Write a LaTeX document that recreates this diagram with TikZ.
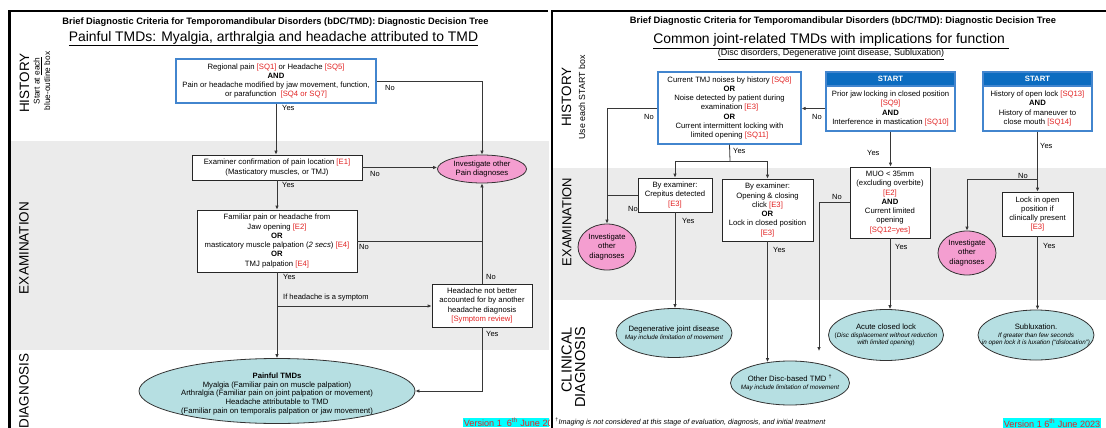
\documentclass[tikz,border=0pt]{standalone}
\usepackage{fontspec}
\setmainfont{Liberation Sans}
\usetikzlibrary{arrows.meta,calc,shapes.geometric}

\definecolor{refred}{RGB}{226,36,36}
\definecolor{boxblue}{RGB}{66,133,206}
\definecolor{startblue}{RGB}{12,108,192}
\definecolor{pinkfill}{RGB}{244,158,208}
\definecolor{tealfill}{RGB}{182,223,226}
\definecolor{bandgray}{RGB}{235,235,235}
\definecolor{linegray}{RGB}{55,55,55}
\definecolor{vercyan}{RGB}{0,255,255}

\newcommand{\rf}[1]{\textcolor{refred}{#1}}
\newcommand{\fs}[2]{\fontsize{#1}{#2}\selectfont}
% small italic remark line inside a diagnosis ellipse
\newcommand{\note}[1]{{\itshape\fs{6.3}{8}#1}}

\tikzset{
  box/.style={draw=black!85, fill=white, line width=0.8pt, inner sep=0pt,
              align=center, font=\fs{7.7}{9.3}},
  bbox/.style={box, draw=boxblue, line width=1.2pt},
  starthead/.style={draw=boxblue, fill=startblue, line width=1.2pt, inner sep=0pt,
              text=white, font=\bfseries\fs{7.7}{9.3}},
  pinkell/.style={ellipse, draw=black!80, fill=pinkfill, line width=0.8pt, inner sep=0pt},
  tealell/.style={ellipse, draw=black!80, fill=tealfill, line width=0.8pt, inner sep=0pt},
  txt/.style={inner sep=0pt, align=center, font=\fs{7.7}{9.3}},
  conn/.style={draw=linegray, line width=0.8pt},
  arr/.style={conn, -{Latex[length=4pt,width=3.6pt]}},
  lbl/.style={anchor=west, inner sep=0pt, font=\fs{7.5}{9}},
  side/.style={rotate=90, inner sep=0pt, font=\fs{13.5}{15}},
  version/.style={fill=vercyan, text=refred, inner sep=0.7pt, anchor=west, font=\fs{9.1}{10}},
}

\begin{document}
\begin{tikzpicture}[x=1pt,y=-1pt]
\useasboundingbox (0,0) rectangle (1106,428);
\fill[white] (0,0) rectangle (1106,428);

% ---------- band backgrounds ----------
\fill[bandgray] (10,141) rectangle (549,350);
\fill[bandgray] (553,168) rectangle (1106,300);

% ---------- panel frames ----------
\draw[line width=1.5pt] (9,11) -- (548,11);
\draw[line width=2.2pt] (9.5,10.3) -- (9.5,430);
\draw[line width=1.5pt] (551,11) -- (1106,11);
\draw[line width=2.2pt] (552,10.3) -- (552,430);

% =====================================================
% Left panel: painful TMDs
% =====================================================
\node[font=\bfseries\fs{9.3}{11}] (ttlA) at (275.5,22)
  {Brief Diagnostic Criteria for Temporomandibular Disorders (bDC/TMD): Diagnostic Decision Tree};
\node[font=\fs{13.9}{16}] (subA) at (273.5,38.5)
  {\underline{Painful TMDs: Myalgia, arthralgia and headache attributed to TMD}};

\node[side] (histA) at (24.5,83) {HISTORY};
\node[side, font=\fs{8.3}{10.5}, align=center] (histAn) at (42,81)
  {Start at \underline{each}\\blue-outline box};
\node[side] (examA) at (24,248) {EXAMINATION};
\node[side] (diagA) at (24,391) {DIAGNOSIS};

\node[bbox, minimum width=200, minimum height=44] (a1) at (276,81)
  {Regional pain \rf{[SQ1]} or Headache \rf{[SQ5]}\\
   \textbf{AND}\\
   Pain or headache modified by jaw movement, function,\\
   or parafunction \ \rf{[SQ4 or SQ7]}};
\node[box, minimum width=170, minimum height=25] (a2) at (277,167.5)
  {Examiner confirmation of pain location \rf{[E1]}\\
   (Masticatory muscles, or TMJ)};
\node[pinkell, minimum width=89, minimum height=28] (a3) at (482,169) {};
\node[txt] (a3t) at (a3) {Investigate other\\Pain diagnoses};
\node[box, minimum width=160, minimum height=62] (a4) at (277,241)
  {Familiar pain or headache from\\
   Jaw opening \rf{[E2]}\\
   \textbf{OR}\\
   masticatory muscle palpation (\textit{2 secs}) \rf{[E4]}\\
   \textbf{OR}\\
   TMJ palpation \rf{[E4]}};
\node[box, minimum width=100, minimum height=43] (a5) at (482,305.5)
  {Headache not better\\
   accounted for by another\\
   headache diagnosis\\
   \rf{[Symptom review]}};
\node[tealell, minimum width=276, minimum height=65] (a6) at (277,391) {};
\node[txt, font=\fs{7.7}{8.7}] (a6t) at (277,394)
  {\textbf{Painful TMDs}\\
   Myalgia (Familiar pain on muscle palpation)\\
   Arthralgia (Familiar pain on joint palpation or movement)\\
   Headache attributable to TMD\\
   (Familiar pain on temporalis palpation or jaw movement)};

\coordinate (a4join) at (a5.north |- a4.east);
\coordinate (asplit) at (277,306);

\draw[arr] (a1.south) -- (a1.south |- a2.north);
\draw[arr] (a1.east) -| (a3.north);
\draw[arr] (a2.east) -- (a2.east -| a3.west);
\draw[arr] (a2.south) -- (a2.south |- a4.north);
\draw[conn] (a4.east) -- (a4join);
\draw[arr] (a5.north) -- (a3.south);
\draw[arr] (a4.south) -- (a4.south |- a6.north);
\draw[arr] (asplit) -- (asplit -| a5.west);
\draw[arr] (a5.south) |- (a6.east);

\node[lbl] (la1) at (385,88) {No};
\node[lbl] (la2) at (282,108) {Yes};
\node[lbl] (la3) at (370,174) {No};
\node[lbl] (la4) at (282,185) {Yes};
\node[lbl] (la5) at (359,247) {No};
\node[lbl] (la6) at (283,277) {Yes};
\node[lbl] (la7) at (486,277) {No};
\node[lbl] (la8) at (283,298) {If headache is a symptom};
\node[lbl] (la9) at (486,334) {Yes};

\begin{scope}
  \clip (0,0) rectangle (549,428);
  \node[version] (verA) at (463,422.5) {Version 1 \ 6\textsuperscript{th} June 2023};
\end{scope}

% =====================================================
% Right panel: joint-related TMDs
% =====================================================
\node[font=\bfseries\fs{9.3}{11}] (ttlB) at (843,21)
  {Brief Diagnostic Criteria for Temporomandibular Disorders (bDC/TMD): Diagnostic Decision Tree};
\node[font=\fs{13.9}{16}] (subB) at (831,41)
  {\underline{Common joint-related TMDs with implications for function\ }};
\node[font=\fs{9}{10}] (subB2) at (831,54.5)
  {\underline{(Disc disorders, Degenerative joint disease, Subluxation)}};

\node[side] (histB) at (566.5,97) {HISTORY};
\node[side, font=\fs{8.8}{10}] (histBn) at (582,97.5) {Use each START box};
\node[side, font=\fs{13}{15}] (examB) at (567,222) {EXAMINATION};
\node[side, font=\fs{14.5}{13.5}, align=right] (diagB) at (573.5,367.5) {CLINICAL\\DIAGNOSIS};

\node[bbox, minimum width=143, minimum height=72] (b1) at (729.5,108)
  {Current TMJ noises by history \rf{[SQ8]}\\
   \textbf{OR}\\
   Noise detected by patient during\\
   examination \rf{[E3]}\\
   \textbf{OR}\\
   Current intermittent locking with\\
   limited opening \rf{[SQ11]}};

\node[starthead, minimum width=129, minimum height=14] (s1h) at (890.5,79) {START};
\node[bbox, minimum width=129, minimum height=45] (s1) at (890.5,108.5)
  {Prior jaw locking in closed position\\
   \rf{[SQ9]}\\
   \textbf{AND}\\
   Interference in mastication \rf{[SQ10]}};

\node[starthead, minimum width=109, minimum height=14] (s2h) at (1037.5,79) {START};
\node[bbox, minimum width=109, minimum height=45] (s2) at (1037.5,108.5)
  {History of open lock \rf{[SQ13]}\\
   \textbf{AND}\\
   History of maneuver to\\
   close mouth \rf{[SQ14]}};

\node[box, minimum width=74, minimum height=34] (b4) at (675,195)
  {By examiner:\\Crepitus detected\\\rf{[E3]}};
\node[pinkell, minimum width=58, minimum height=46] (b5) at (607,247) {};
\node[txt] (b5t) at (b5) {Investigate\\other\\diagnoses};
\node[box, minimum width=91, minimum height=62] (b6) at (767.5,210)
  {By examiner:\\Opening \& closing\\click \rf{[E3]}\\\textbf{OR}\\Lock in closed position\\\rf{[E3]}};
\node[box, minimum width=80, minimum height=71] (b7) at (890,202.5)
  {MUO < 35mm\\(excluding overbite)\\\rf{[E2]}\\\textbf{AND}\\Current limited\\opening\\\rf{[SQ12=yes]}};
\node[pinkell, minimum width=58, minimum height=44] (b8) at (967,253) {};
\node[txt] (b8t) at (b8) {Investigate\\other\\diagnoses};
\node[box, minimum width=71, minimum height=44] (b9) at (1037.5,214)
  {Lock in open\\position if\\clinically present\\\rf{[E3]}};

\node[tealell, minimum width=116, minimum height=49] (c1) at (674,333) {};
\node[txt] (c1t) at (c1)
  {Degenerative joint disease\\[-1.5pt]\note{May include limitation of movement}};
\node[tealell, minimum width=119, minimum height=44] (c2) at (790,383) {};
\node[txt] (c2t) at (c2)
  {Other Disc-based TMD \textsuperscript{†}\\[-1.5pt]\note{May include limitation of movement}};
\node[tealell, minimum width=115, minimum height=51] (c3) at (886,335) {};
\node[txt] (c3t) at (c3)
  {Acute closed lock\\[-1.5pt]{\fs{6.3}{8}(}\note{Disc displacement without reduction}\\[-1.5pt]\note{with limited opening}{\fs{6.3}{8})}};
\node[tealell, minimum width=116, minimum height=50] (c4) at (1036,335) {};
\node[txt] (c4t) at (c4)
  {Subluxation.\\[-1.5pt]\note{If greater than few seconds}\\[-1.5pt]\note{in open lock it is luxation (“dislocation”)}};

\coordinate (bsplit) at (730,161);
\coordinate (s2split) at (1038,179);
\coordinate (b7end) at (819,351);

\draw[arr] (b1.west) -| (b5.north);
\draw[arr] (s1.west) -- (s1.west -| b1.east);
\draw[conn] (b1.south) -- (bsplit);
\draw[arr] (bsplit) -| (b4.north);
\draw[arr] (bsplit) -| (b6.north);
\draw[conn] (b4.west) -- (b4.west -| b5.north);
\draw[arr] (b4.south) -- (b4.south |- c1.north);
\draw[arr] (b6.south) -- ($(b6.south |- c2.north)+(0,1.5)$);
\draw[arr] (b7.west) -| (b7end);
\draw[arr] (s1.south) -- (s1.south |- b7.north);
\draw[arr] (b7.south) -- (b7.south |- c3.north);
\draw[arr] (s2.south) -- (s2.south |- b9.north);
\draw[arr] (s2split) -| (b8.north);
\draw[arr] (b9.south) -- (b9.south |- c4.north);

\node[lbl] (lb1) at (644,117) {No};
\node[lbl] (lb2) at (733,151) {Yes};
\node[lbl] (lb3) at (812,117) {No};
\node[lbl] (lb4) at (682,221) {Yes};
\node[lbl] (lb5) at (773,250) {Yes};
\node[lbl] (lb6) at (628,209) {No};
\node[lbl] (lb7) at (832,197) {No};
\node[lbl] (lb8) at (867,153) {Yes};
\node[lbl] (lb9) at (895,247) {Yes};
\node[lbl] (lb10) at (1040,146) {Yes};
\node[lbl] (lb11) at (1018,176) {No};
\node[lbl] (lb12) at (1043,246) {Yes};

\node[anchor=west, inner sep=0pt, font=\itshape\fs{7.2}{8}] (foot) at (555,422)
  {\textsuperscript{†}Imaging is not considered at this stage of evaluation, diagnosis, and initial treatment};
\node[version] (verB) at (1003,423) {Version 1 6\textsuperscript{th} June 2023};

\end{tikzpicture}
\end{document}
